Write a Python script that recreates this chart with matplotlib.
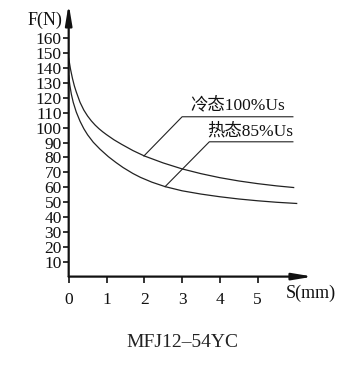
import numpy as np
import matplotlib.pyplot as plt

plt.rcParams['font.family'] = ['Liberation Serif', 'Noto Sans CJK SC']

# cold state 100% Us
S_cold = [0, 0.05, 0.1, 0.15, 0.2, 0.3, 0.4, 0.5, 0.6, 0.7, 0.8, 0.9, 1.0, 1.2, 1.4, 1.7,
          2.0, 2.5, 3.0, 3.5, 4.0, 4.5, 5.0, 5.5, 5.95]
F_cold = [146.5, 139, 133, 128, 124, 117, 111.8, 107.8, 104.5, 101.7, 99.3, 97.2, 95.3, 91.8,
          88.8, 84.6, 81, 76.3, 72.3, 69.1, 66.4, 64.2, 62.4, 60.9, 59.8]
# hot state 85% Us
S_hot = [0, 0.03, 0.07, 0.12, 0.2, 0.3, 0.4, 0.5, 0.65, 0.83, 1.05, 1.25, 1.44, 1.7, 1.9,
         2.2, 2.55, 3.0, 3.5, 4.0, 4.5, 5.0, 5.5, 6.03]
F_hot = [135, 128.5, 122.5, 117, 110.5, 104.3, 99.3, 95.2, 90.2, 85.5, 80.5, 76.6, 73.2, 69.2,
         66.6, 63.4, 60.4, 57.6, 55.4, 53.6, 52.1, 50.9, 49.9, 49.1]

yticks = list(range(10, 170, 10))
xticks = [0, 1, 2, 3, 4, 5]
labels = ['冷态100%Us', '热态85%Us']
title = 'MFJ12\u201354YC'

fig = plt.figure(figsize=(3.55, 3.67), dpi=100)
ax = fig.add_axes([0.1935, 0.2463, 0.688, 0.7428])
ax.set_xlim(0, 6.46)
ax.set_ylim(0, 183)

ax.plot(S_cold, F_cold, color='#222222', lw=0.9)
ax.plot(S_hot, F_hot, color='#222222', lw=0.9)

# axes with arrows
for sp in ax.spines.values():
    sp.set_visible(False)
ax.annotate('', xy=(6.46, 0), xytext=(0, 0), xycoords='data',
            arrowprops=dict(arrowstyle='-|>,head_length=1.2,head_width=0.2',
                            color='#111111', lw=1.6, shrinkA=0, shrinkB=0),
            annotation_clip=False)
ax.annotate('', xy=(0, 183), xytext=(0, 0), xycoords='data',
            arrowprops=dict(arrowstyle='-|>,head_length=1.2,head_width=0.2',
                            color='#111111', lw=1.6, shrinkA=0, shrinkB=0),
            annotation_clip=False)

ax.set_xticks(xticks)
ax.set_yticks(yticks)
ax.tick_params(axis='both', direction='out', length=4, width=1.2, color='#111111',
               labelsize=12.5, labelcolor='#111111')
ax.tick_params(axis='x', pad=7)
ax.tick_params(axis='y', pad=1)

ax.text(-0.17, 172, 'F(N)', ha='right', va='center', fontsize=13, color='#111111')
ax.text(5.75, -11, 'S(mm)', ha='left', va='center', fontsize=13, color='#111111')

# leader lines with labels
ax.plot([1.99, 3.0, 5.93], [81, 107.3, 107.3], color='#222222', lw=0.8)
ax.plot([2.55, 3.72, 5.93], [60.4, 90.5, 90.5], color='#222222', lw=0.8)
ax.text(5.72, 109.5, labels[0], ha='right', va='bottom', fontsize=12.5, color='#111111')
ax.text(5.93, 92, labels[1], ha='right', va='bottom', fontsize=12.5, color='#111111')

fig.text(0.513, 0.068, title, ha='center', va='center', fontsize=14, color='#222222')

fig.savefig('out.png', dpi=100)
